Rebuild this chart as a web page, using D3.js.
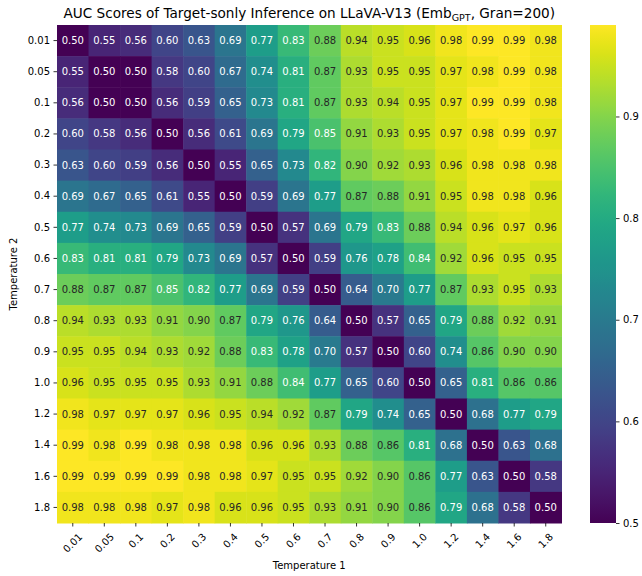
<!DOCTYPE html>
<html>
<head>
<meta charset="utf-8">
<script src="https://cdn.jsdelivr.net/npm/d3@7"></script>
<style>
  html, body { margin: 0; padding: 0; background: #fff; }
  text { font-family: "DejaVu Sans", sans-serif; }
</style>
</head>
<body>
<svg id="chart" width="642" height="576"></svg>
<script>
// ---- data ----
const temp1Labels = ["0.01","0.05","0.1","0.2","0.3","0.4","0.5","0.6","0.7","0.8","0.9","1.0","1.2","1.4","1.6","1.8"];
const temp2Labels = ["0.01","0.05","0.1","0.2","0.3","0.4","0.5","0.6","0.7","0.8","0.9","1.0","1.2","1.4","1.6","1.8"];
const aucRows = [
  [0.50,0.55,0.56,0.60,0.63,0.69,0.77,0.83,0.88,0.94,0.95,0.96,0.98,0.99,0.99,0.98],
  [0.55,0.50,0.50,0.58,0.60,0.67,0.74,0.81,0.87,0.93,0.95,0.95,0.97,0.98,0.99,0.98],
  [0.56,0.50,0.50,0.56,0.59,0.65,0.73,0.81,0.87,0.93,0.94,0.95,0.97,0.99,0.99,0.98],
  [0.60,0.58,0.56,0.50,0.56,0.61,0.69,0.79,0.85,0.91,0.93,0.95,0.97,0.98,0.99,0.97],
  [0.63,0.60,0.59,0.56,0.50,0.55,0.65,0.73,0.82,0.90,0.92,0.93,0.96,0.98,0.98,0.98],
  [0.69,0.67,0.65,0.61,0.55,0.50,0.59,0.69,0.77,0.87,0.88,0.91,0.95,0.98,0.98,0.96],
  [0.77,0.74,0.73,0.69,0.65,0.59,0.50,0.57,0.69,0.79,0.83,0.88,0.94,0.96,0.97,0.96],
  [0.83,0.81,0.81,0.79,0.73,0.69,0.57,0.50,0.59,0.76,0.78,0.84,0.92,0.96,0.95,0.95],
  [0.88,0.87,0.87,0.85,0.82,0.77,0.69,0.59,0.50,0.64,0.70,0.77,0.87,0.93,0.95,0.93],
  [0.94,0.93,0.93,0.91,0.90,0.87,0.79,0.76,0.64,0.50,0.57,0.65,0.79,0.88,0.92,0.91],
  [0.95,0.95,0.94,0.93,0.92,0.88,0.83,0.78,0.70,0.57,0.50,0.60,0.74,0.86,0.90,0.90],
  [0.96,0.95,0.95,0.95,0.93,0.91,0.88,0.84,0.77,0.65,0.60,0.50,0.65,0.81,0.86,0.86],
  [0.98,0.97,0.97,0.97,0.96,0.95,0.94,0.92,0.87,0.79,0.74,0.65,0.50,0.68,0.77,0.79],
  [0.99,0.98,0.99,0.98,0.98,0.98,0.96,0.96,0.93,0.88,0.86,0.81,0.68,0.50,0.63,0.68],
  [0.99,0.99,0.99,0.99,0.98,0.98,0.97,0.95,0.95,0.92,0.90,0.86,0.77,0.63,0.50,0.58],
  [0.98,0.98,0.98,0.97,0.98,0.96,0.96,0.95,0.93,0.91,0.90,0.86,0.79,0.68,0.58,0.50]
];
const colorbarTicks = [0.5, 0.6, 0.7, 0.8, 0.9];
const titleMain = "AUC Scores of Target-sonly Inference on LLaVA-V13 (Emb";
const titleSub = "GPT";
const titleEnd = ", Gran=200)";
const xLabel = "Temperature 1";
const yLabel = "Temperature 2";

// ---- layout ----
const hm = { x0: 57, x1: 561.5, y0: 25, y1: 523 };
const cb = { x0: 590, x1: 616 };

const svg = d3.select("#chart");
const x = d3.scaleBand().domain(temp1Labels).range([hm.x0, hm.x1]).padding(0);
const y = d3.scaleBand().domain(temp2Labels).range([hm.y0, hm.y1]).padding(0);

const allVals = aucRows.flat();
const ext = d3.extent(allVals);
const color = d3.scaleSequential(d3.interpolateViridis).domain(ext);

function lum(c) {
  const rgb = d3.rgb(c);
  const f = v => { v = v / 255; return v <= 0.03928 ? v / 12.92 : Math.pow((v + 0.055) / 1.055, 2.4); };
  return 0.2126 * f(rgb.r) + 0.7152 * f(rgb.g) + 0.0722 * f(rgb.b);
}

const cells = [];
aucRows.forEach((row, i) => row.forEach((v, j) => cells.push({ r: temp2Labels[i], c: temp1Labels[j], v })));

const g = svg.append("g");
g.selectAll("rect.cell").data(cells).join("rect")
  .attr("class", "cell")
  .attr("x", d => x(d.c))
  .attr("y", d => y(d.r))
  .attr("width", x.bandwidth() + 0.5)
  .attr("height", y.bandwidth() + 0.5)
  .attr("fill", d => color(d.v));

g.selectAll("text.annot").data(cells).join("text")
  .attr("class", "annot")
  .attr("x", d => x(d.c) + x.bandwidth() / 2)
  .attr("y", d => y(d.r) + y.bandwidth() / 2)
  .attr("text-anchor", "middle")
  .attr("dominant-baseline", "central")
  .attr("font-size", 10)
  .attr("fill", d => lum(color(d.v)) > 0.408 ? "#262626" : "#ffffff")
  .text(d => d3.format(".2f")(d.v));

// ---- axes ----
const xAxis = d3.axisBottom(x).tickSize(3.5).tickPadding(3.5);
const xg = svg.append("g").attr("transform", `translate(0,${hm.y1})`).call(xAxis);
xg.select(".domain").remove();
xg.selectAll(".tick line").attr("stroke", "#000").attr("stroke-width", 0.8);
xg.selectAll(".tick text").each(function() {
  const t = d3.select(this);
  t.attr("font-size", 10).attr("font-family", "DejaVu Sans").attr("fill", "#000");
  const w = this.getComputedTextLength();
  const h = 11.6;
  const cy = 3.5 + 3.5 + (w + h) / (2 * Math.SQRT2) + 1;
  t.attr("y", null).attr("dy", null)
    .attr("text-anchor", "middle")
    .attr("dominant-baseline", "central")
    .attr("transform", `translate(0,${cy}) rotate(-45)`);
});

const yAxis = d3.axisLeft(y).tickSize(3.5).tickPadding(3.5);
const yg = svg.append("g").attr("transform", `translate(${hm.x0},0)`).call(yAxis);
yg.select(".domain").remove();
yg.selectAll(".tick line").attr("stroke", "#000").attr("stroke-width", 0.8);
yg.selectAll(".tick text").attr("font-size", 10).attr("font-family", "DejaVu Sans").attr("fill", "#000");

// ---- axis labels ----
svg.append("text")
  .attr("x", (hm.x0 + hm.x1) / 2).attr("y", 569)
  .attr("text-anchor", "middle").attr("font-size", 10).attr("fill", "#000")
  .text(xLabel);
svg.append("text")
  .attr("transform", `translate(17,${(hm.y0 + hm.y1) / 2}) rotate(-90)`)
  .attr("text-anchor", "middle").attr("font-size", 10).attr("fill", "#000")
  .text(yLabel);

// ---- title ----
const title = svg.append("text")
  .attr("x", (hm.x0 + hm.x1) / 2).attr("y", 18)
  .attr("text-anchor", "middle").attr("font-size", 13.6).attr("fill", "#000");
title.append("tspan").text(titleMain);
title.append("tspan").attr("font-size", 9.5).attr("dy", 2.5).text(titleSub);
title.append("tspan").attr("dy", -2.5).text(titleEnd);

// ---- colorbar ----
const cbScale = d3.scaleLinear().domain(ext).range([hm.y1, hm.y0]);
const defs = svg.append("defs");
const grad = defs.append("linearGradient").attr("id", "cbgrad")
  .attr("x1", 0).attr("y1", 1).attr("x2", 0).attr("y2", 0);
d3.range(0, 1.0001, 0.02).forEach(t => {
  grad.append("stop").attr("offset", t).attr("stop-color", color(ext[0] + t * (ext[1] - ext[0])));
});
svg.append("rect")
  .attr("x", cb.x0).attr("y", hm.y0)
  .attr("width", cb.x1 - cb.x0).attr("height", hm.y1 - hm.y0)
  .attr("fill", "url(#cbgrad)");
const cbAxis = d3.axisRight(cbScale).tickValues(colorbarTicks).tickFormat(d3.format(".1f")).tickSize(3.5).tickPadding(3.5);
const cbg = svg.append("g").attr("transform", `translate(${cb.x1},0)`).call(cbAxis);
cbg.select(".domain").remove();
cbg.selectAll(".tick line").attr("stroke", "#000").attr("stroke-width", 0.8);
cbg.selectAll(".tick text").attr("font-size", 10).attr("font-family", "DejaVu Sans").attr("fill", "#000");
</script>
</body>
</html>
